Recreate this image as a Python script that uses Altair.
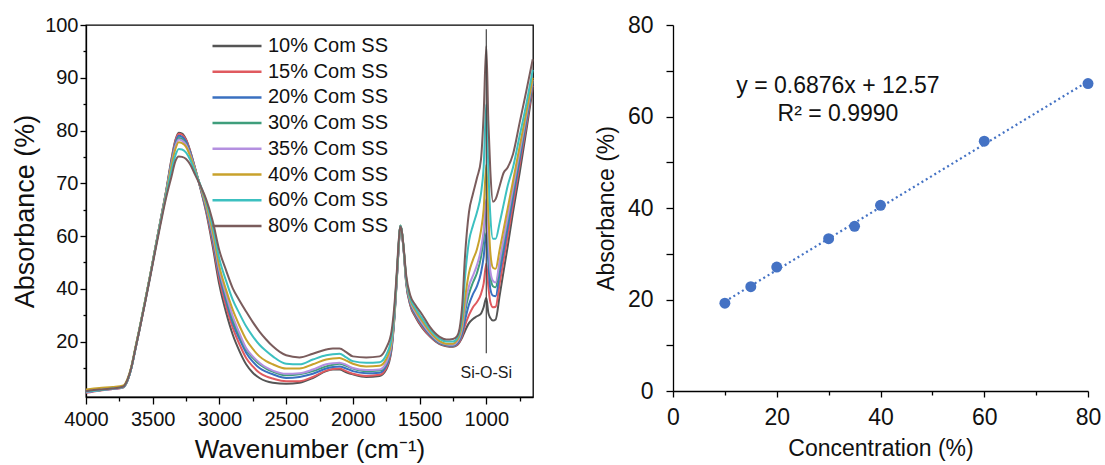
import altair as alt
import pandas as pd

FONT = "Liberation Sans"

# ---------------- FTIR spectra (left panel) ----------------
WN = [4000, 3900, 3800, 3720, 3690, 3660, 3630, 3600, 3560, 3520, 3480, 3440,
      3400, 3360, 3330, 3305, 3280, 3250, 3220, 3180, 3140,
      3100, 3050, 3000, 2950, 2900, 2850, 2800, 2750, 2700, 2650, 2600,
      2500, 2400, 2300, 2200, 2150, 2100, 2050, 2000,
      1900, 1800, 1750, 1710, 1690, 1670, 1655, 1645, 1635, 1620,
      1600, 1570, 1530, 1480, 1420, 1350, 1300, 1250, 1220, 1200,
      1180, 1160, 1130, 1100, 1070, 1040, 1020, 1000, 985, 970,
      950, 930, 900, 870, 840, 800, 750, 700, 652]

S10 = [30.4, 30.8, 31.0, 31.4, 32.6, 35.0, 38.6, 42.2, 47.2, 52.4, 57.8, 63.2,
       68.5, 74.5, 78.2, 79.6, 79.4, 78.3, 76.2, 72.6, 68.8,
       64.6, 58.0, 50.7, 45.5, 41.3, 38.2, 35.7, 34.1, 33.1, 32.5, 32.2,
       32.0, 32.2, 33.1, 34.4, 34.7, 34.7, 34.2, 33.8,
       33.3, 33.5, 34.7, 38.5, 44.0, 52.0, 58.5, 61.8, 61.0, 57.5,
       51.0, 46.9, 44.6, 42.6, 40.9, 39.5, 39.1, 39.0, 39.3, 39.9,
       40.8, 42.0, 43.5, 44.3, 44.8, 45.3, 46.5, 48.3, 45.5, 44.5,
       44.0, 44.2, 48.7, 53.4, 58.0, 64.5, 72.0, 80.0, 88.0]
S15 = [30.3, 30.7, 31.0, 31.3, 32.5, 35.0, 38.6, 42.2, 47.2, 52.4, 57.8, 63.1,
       68.4, 74.3, 78.0, 79.4, 79.2, 78.2, 76.1, 72.6, 68.9,
       64.9, 58.7, 51.7, 46.7, 42.6, 39.5, 36.9, 35.3, 34.1, 33.4, 33.0,
       32.5, 32.5, 33.3, 34.5, 34.8, 34.9, 34.4, 33.9,
       33.5, 33.7, 35.0, 38.8, 44.2, 52.1, 58.6, 61.8, 61.0, 57.5,
       51.1, 47.1, 44.8, 42.8, 41.0, 39.6, 39.2, 39.1, 39.4, 40.0,
       41.2, 43.0, 45.0, 46.5, 47.5, 49.0, 51.0, 54.8, 50.5, 47.5,
       46.5, 46.6, 51.0, 55.5, 60.0, 66.0, 73.5, 81.0, 88.5]
S20 = [30.4, 30.8, 31.1, 31.4, 32.6, 35.1, 38.7, 42.3, 47.3, 52.4, 57.8, 63.1,
       68.3, 74.0, 77.6, 79.0, 78.8, 77.9, 75.9, 72.5, 69.0,
       65.2, 59.4, 52.6, 47.7, 43.5, 40.5, 37.9, 36.2, 35.0, 34.3, 33.8,
       33.1, 33.3, 33.9, 34.9, 35.2, 35.3, 34.9, 34.4,
       34.0, 34.1, 35.4, 39.1, 44.4, 52.3, 58.7, 61.9, 61.1, 57.6,
       51.3, 47.3, 45.1, 43.1, 41.2, 39.7, 39.3, 39.2, 39.6, 40.3,
       41.7, 44.0, 47.0, 49.0, 50.5, 53.0, 56.0, 60.6, 55.0, 50.0,
       48.7, 48.6, 52.9, 57.2, 61.5, 67.3, 74.5, 81.8, 89.0]
S30 = [30.5, 30.8, 31.1, 31.4, 32.6, 35.1, 38.7, 42.3, 47.3, 52.4, 57.7, 63.0,
       68.2, 73.8, 77.2, 78.6, 78.4, 77.5, 75.6, 72.4, 69.1,
       65.5, 59.9, 53.2, 48.4, 44.1, 41.1, 38.5, 36.9, 35.7, 34.9, 34.3,
       33.6, 33.8, 34.4, 35.3, 35.6, 35.8, 35.4, 34.9,
       34.4, 34.5, 35.8, 39.4, 44.6, 52.4, 58.8, 61.9, 61.1, 57.7,
       51.5, 47.5, 45.3, 43.3, 41.4, 39.8, 39.4, 39.3, 39.8, 40.6,
       42.3, 45.5, 49.0, 51.2, 53.0, 56.0, 59.5, 65.0, 58.5, 52.5,
       50.5, 50.3, 54.5, 58.7, 62.9, 68.4, 75.4, 82.4, 89.3]
S35 = [30.4, 30.8, 31.0, 31.4, 32.6, 35.0, 38.6, 42.2, 47.2, 52.3, 57.7, 63.0,
       68.1, 73.6, 77.0, 78.3, 78.1, 77.3, 75.5, 72.4, 69.2,
       65.7, 60.2, 53.5, 48.9, 44.8, 41.6, 38.8, 37.2, 36.0, 35.1, 34.5,
       33.9, 34.0, 34.7, 35.7, 35.9, 36.0, 35.6, 35.0,
       34.6, 34.7, 36.0, 39.6, 44.7, 52.5, 58.8, 61.9, 61.1, 57.7,
       51.6, 47.7, 45.5, 43.5, 41.5, 39.9, 39.5, 39.4, 39.9, 40.8,
       42.7, 46.5, 50.5, 52.5, 54.5, 57.5, 61.0, 67.0, 60.0, 53.5,
       51.5, 51.2, 55.3, 59.5, 63.6, 69.1, 76.0, 82.9, 89.6]
S40 = [30.9, 31.2, 31.4, 31.7, 32.9, 35.3, 38.9, 42.4, 47.4, 52.5, 57.8, 63.0,
       68.0, 73.3, 76.5, 77.8, 77.6, 76.9, 75.2, 72.3, 69.3,
       66.0, 60.8, 54.2, 49.8, 46.0, 43.0, 40.4, 38.6, 37.2, 36.3, 35.7,
       34.9, 34.9, 35.7, 36.6, 36.8, 36.9, 36.4, 35.8,
       35.3, 35.4, 36.7, 40.2, 45.1, 52.8, 59.0, 62.0, 61.2, 57.8,
       51.8, 48.0, 45.9, 43.9, 41.8, 40.1, 39.6, 39.6, 40.2, 41.2,
       43.5, 48.0, 53.0, 55.5, 57.5, 61.0, 65.0, 73.5, 64.5, 57.0,
       54.0, 53.8, 57.4, 61.3, 65.2, 70.4, 77.0, 83.5, 90.0]
S60 = [30.5, 30.8, 31.1, 31.4, 32.6, 35.0, 38.6, 42.2, 47.2, 52.3, 57.6, 62.8,
       67.7, 72.4, 75.3, 76.5, 76.4, 75.8, 74.5, 72.0, 69.5,
       66.6, 61.8, 55.6, 51.5, 47.9, 45.3, 42.9, 41.0, 39.4, 38.2, 37.2,
       35.8, 35.7, 36.6, 37.4, 37.6, 37.7, 37.0, 36.3,
       36.0, 36.1, 37.5, 40.8, 45.5, 53.0, 59.2, 62.0, 61.3, 57.9,
       52.0, 48.3, 46.3, 44.4, 42.2, 40.5, 40.0, 40.0, 40.6, 41.8,
       45.0, 52.0, 59.0, 62.0, 64.5, 68.0, 73.0, 85.0, 73.0, 64.0,
       59.5, 59.5, 62.5, 66.0, 69.5, 73.0, 79.0, 85.0, 91.5]
S80 = [30.6, 30.9, 31.1, 31.5, 32.7, 35.1, 38.6, 42.1, 47.0, 52.1, 57.3, 62.4,
       67.2, 71.2, 74.2, 75.1, 75.0, 74.6, 73.6, 71.5, 69.4,
       67.0, 62.8, 57.2, 53.5, 50.1, 47.8, 45.7, 43.7, 41.9, 40.4, 39.1,
       37.4, 37.0, 37.7, 38.5, 38.7, 38.7, 38.0, 37.2,
       37.0, 37.2, 38.8, 42.0, 46.5, 53.5, 59.5, 61.8, 61.2, 58.0,
       52.5, 48.8, 46.9, 45.1, 42.7, 40.9, 40.4, 40.5, 41.0, 42.5,
       47.0, 56.0, 64.5, 68.0, 71.0, 74.5, 83.0, 96.0, 82.0, 72.5,
       66.5, 67.0, 69.5, 72.0, 73.0, 75.5, 81.5, 87.5, 93.5]

SERIES = ["10% Com SS", "15% Com SS", "20% Com SS", "30% Com SS",
          "35% Com SS", "40% Com SS", "60% Com SS", "80% Com SS"]
COLORS = ["#555555", "#e05a5f", "#3a70c0", "#3f9e7c",
          "#b48fe0", "#c8a22c", "#3cc0c0", "#7a5c5c"]

rows = []
for name, vals in zip(SERIES, [S10, S15, S20, S30, S35, S40, S60, S80]):
    assert len(vals) == len(WN), (name, len(vals), len(WN))
    for w, v in zip(WN, vals):
        rows.append({"wn": w, "absorb": v, "series": name})
spec_df = pd.DataFrame(rows)

# Si-O-Si marker
MARK_WN = [1000]
MARK_TOP = [99.2]
MARK_BOTTOM = [37.8]
MARK_LABEL = ["Si-O-Si"]
MARK_LABEL_Y = [34.0]

# ---------------- calibration (right panel) ----------------
CONC = [10, 15, 20, 30, 35, 40, 60, 80]
ABSORB = [19.2, 22.8, 27.1, 33.3, 36.0, 40.6, 54.6, 67.2]
EQ_TEXT = ["y = 0.6876x + 12.57", "R\u00b2 = 0.9990"]
EQ_X = [31.8, 31.8]
EQ_Y = [66.6, 60.6]

pts_df = pd.DataFrame({"conc": CONC, "absorb": ABSORB})
eq_df = pd.DataFrame({"conc": EQ_X, "absorb": EQ_Y, "t": EQ_TEXT})

# ---------------- left chart ----------------
left_x = alt.X(
    "wn:Q",
    scale=alt.Scale(domain=[650, 4000], reverse=True, nice=False, zero=False),
    axis=alt.Axis(
        title="Wavenumber (cm\u207b\u00b9)",
        values=list(range(750, 4001, 250)),
        format="d",
        labelExpr="datum.value % 500 === 0 ? datum.label : ''",
        tickSize={"condition": {"test": "datum.value % 500 === 0", "value": 7}, "value": 4},
        labelFontSize=20, titleFontSize=26, labelPadding=5, titlePadding=7,
        labelFlush=False,
    ),
)
left_y = alt.Y(
    "absorb:Q",
    scale=alt.Scale(domain=[29.5, 100], nice=False, zero=False),
    axis=alt.Axis(
        title="Absorbance (%)",
        values=list(range(35, 101, 5)),
        labelExpr="datum.value == 50 ? '40' : datum.value == 40 ? '20' : "
                  "(datum.value >= 60 && datum.value % 10 === 0) ? datum.label : ''",
        tickSize={"condition": {"test": "datum.value % 10 === 0", "value": 6}, "value": 3},
        labelFontSize=20, titleFontSize=27, labelPadding=2, titlePadding=5,
        labelFlush=False,
    ),
)

lines = alt.Chart(spec_df).mark_line(strokeWidth=2, interpolate="monotone").encode(
    x=left_x,
    y=left_y,
    color=alt.Color(
        "series:N",
        scale=alt.Scale(domain=SERIES, range=COLORS),
        sort=SERIES,
        legend=alt.Legend(
            title=None, orient="none", legendX=125, legendY=11,
            symbolType="stroke", symbolSize=2401, symbolStrokeWidth=2.5,
            labelFontSize=20, labelFont=FONT, labelColor="#111",
            clipHeight=20, rowPadding=5.7, labelOffset=5, padding=0,
        ),
    ),
    order=alt.Order("wn:Q", sort="descending"),
)

rule_df = pd.DataFrame({"wn": MARK_WN, "absorb": MARK_TOP, "bottom": MARK_BOTTOM})
rule = alt.Chart(rule_df).mark_rule(color="#444444", strokeWidth=1.2).encode(
    x=left_x, y=left_y, y2="bottom:Q"
)
label_df = pd.DataFrame({"wn": MARK_WN, "absorb": MARK_LABEL_Y, "label": MARK_LABEL})
rule_text = alt.Chart(label_df).mark_text(fontSize=16, font=FONT, color="#222222").encode(
    x=left_x, y=left_y, text="label:N"
)

left = alt.layer(lines, rule, rule_text).properties(
    width=447, height=372,
    view=alt.ViewBackground(stroke="#000000", strokeWidth=1.3),
)

# ---------------- right chart ----------------
right_x = alt.X(
    "conc:Q",
    scale=alt.Scale(domain=[0, 80], nice=False),
    axis=alt.Axis(
        title="Concentration (%)",
        values=list(range(0, 81, 10)),
        labelExpr="datum.value % 20 === 0 ? datum.label : ''",
        tickSize={"condition": {"test": "datum.value % 20 === 0", "value": 6}, "value": 4},
        labelFontSize=23, titleFontSize=23, labelPadding=9, titlePadding=8,
        labelFlush=False,
    ),
)
right_y = alt.Y(
    "absorb:Q",
    scale=alt.Scale(domain=[0, 80], nice=False),
    axis=alt.Axis(
        title="Absorbance (%)",
        values=list(range(0, 81, 10)),
        labelExpr="datum.value % 20 === 0 ? datum.label : ''",
        tickSize=7,
        labelFontSize=23, titleFontSize=23, labelPadding=13, titlePadding=9,
        labelFlush=False,
    ),
)

trend = alt.Chart(pts_df).mark_line(
    color="#4472c4", strokeWidth=2.2, strokeDash=[2, 3]
).transform_regression("conc", "absorb", extent=[10, 80]).encode(x=right_x, y=right_y)

points = alt.Chart(pts_df).mark_circle(size=120, color="#4472c4", opacity=1).encode(
    x=right_x, y=right_y
)

eq = alt.Chart(eq_df).mark_text(fontSize=23, font=FONT, color="#111111").encode(
    x=right_x, y=right_y, text="t:N"
)

right = alt.layer(trend, points, eq).properties(width=415, height=366)

chart = alt.hconcat(left, right, spacing=56).properties(
    padding={"left": 10, "top": 13, "right": 0, "bottom": 0},
    background="#ffffff",
).configure_axis(
    labelFont=FONT, titleFont=FONT, labelColor="#111111", titleColor="#111111",
    titleFontWeight="normal", domainColor="#000000", tickColor="#000000",
    domainWidth=1.3, tickWidth=1.3, grid=False,
).configure_view(stroke="transparent")

chart.save("out.html", embed_options={"renderer": "svg", "actions": False})
